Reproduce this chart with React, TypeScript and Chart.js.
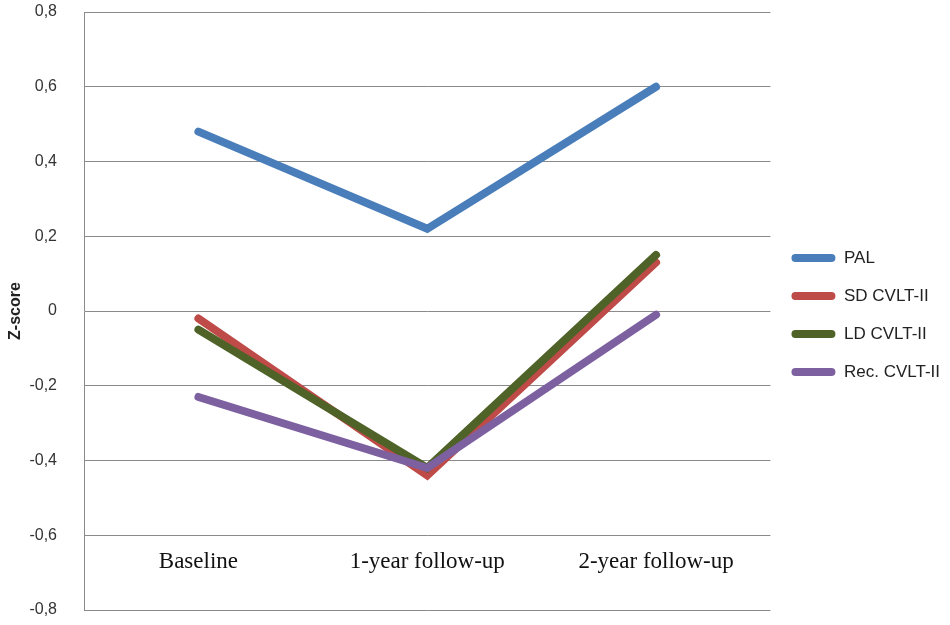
import React, { useRef, useEffect } from "react";
import { Chart, ChartConfiguration, registerables } from "chart.js";
Chart.register(...registerables);

const categories = ["Baseline", "1-year follow-up", "2-year follow-up"];
const seriesNames = ["PAL", "SD CVLT-II", "LD CVLT-II", "Rec. CVLT-II"];
const palValues = [0.48, 0.22, 0.6];
const sdValues = [-0.02, -0.44, 0.13];
const ldValues = [-0.05, -0.42, 0.15];
const recValues = [-0.23, -0.42, -0.01];
const seriesColors = ["#4a7ebb", "#be4b48", "#4f6228", "#7d60a0"];
const yTicks = [-0.8, -0.6, -0.4, -0.2, 0, 0.2, 0.4, 0.6, 0.8];

// x labels sit inside the plot, above the bottom line (like the original)
const innerLabels = {
  id: "innerLabels",
  afterDatasetsDraw(chart: any) {
    const { ctx, chartArea, scales } = chart;
    ctx.save();
    ctx.font = '23px "Liberation Serif", "DejaVu Serif", serif';
    ctx.fillStyle = "#111";
    ctx.textAlign = "center";
    ctx.textBaseline = "middle";
    categories.forEach((c, i) => {
      ctx.fillText(c, scales.x.getPixelForValue(i), chartArea.bottom - 48);
    });
    ctx.restore();
  },
};

const App: React.FC = () => {
  const chartRef = useRef<HTMLCanvasElement>(null);

  useEffect(() => {
    document.body.style.margin = "0";
    if (!chartRef.current) return;
    const all = [palValues, sdValues, ldValues, recValues];
    const config: ChartConfiguration = {
      type: "line",
      data: {
        labels: categories,
        datasets: all.map((vals, i) => ({
          label: seriesNames[i],
          data: vals,
          borderColor: seriesColors[i],
          backgroundColor: seriesColors[i],
          borderWidth: 8,
          borderCapStyle: "round",
          pointRadius: 0,
          tension: 0,
          order: 4 - i,
        })),
      },
      options: {
        responsive: false,
        animation: false,
        layout: { padding: { top: 12, bottom: 7, left: 6, right: 0 } },
        plugins: {
          tooltip: { enabled: false },
          legend: {
            position: "right",
            labels: {
              boxWidth: 44,
              boxHeight: 8,
              useBorderRadius: true,
              borderRadius: 4,
              padding: 21,
              color: "#222",
              font: { family: "'Liberation Sans', Arial, sans-serif", size: 17 },
              sort: (a: any, b: any) => a.datasetIndex - b.datasetIndex,
              generateLabels: (chart: any) =>
                Chart.defaults.plugins.legend.labels
                  .generateLabels(chart)
                  .map((l: any) => ({ ...l, lineWidth: 0 })),
            },
          },
        },
        scales: {
          x: {
            offset: true,
            grid: { display: false },
            border: { display: false },
            ticks: { display: false },
          },
          y: {
            min: -0.8,
            max: 0.8,
            afterBuildTicks: (axis: any) => {
              axis.ticks = yTicks.map((v) => ({ value: v }));
            },
            afterFit: (axis: any) => {
              axis.width = 78;
              axis.paddingTop = 10;
              axis.paddingBottom = 10;
            },
            grid: { color: "#8a8a8a", lineWidth: 1, drawTicks: false },
            border: { display: true, color: "#8a8a8a" },
            ticks: {
              padding: 27,
              color: "#333",
              font: { family: "'Liberation Sans', Arial, sans-serif", size: 16 },
              callback: (v: any) => (Number(v) === 0 ? "0" : Number(v).toFixed(1).replace(".", ",")),
            },
            title: {
              display: true,
              text: "Z-score",
              color: "#222",
              font: { family: "'Liberation Sans', Arial, sans-serif", size: 16, weight: "bold" },
              padding: { top: 0, bottom: 4 },
            },
          },
        },
      },
      plugins: [innerLabels],
    };
    const chart = new Chart(chartRef.current, config);
    return () => {
      chart.destroy();
    };
  }, []);

  return (
    <div style={{ width: 950, height: 625, background: "#fff" }}>
      <canvas ref={chartRef} width={950} height={625}></canvas>
    </div>
  );
};

export default App;
